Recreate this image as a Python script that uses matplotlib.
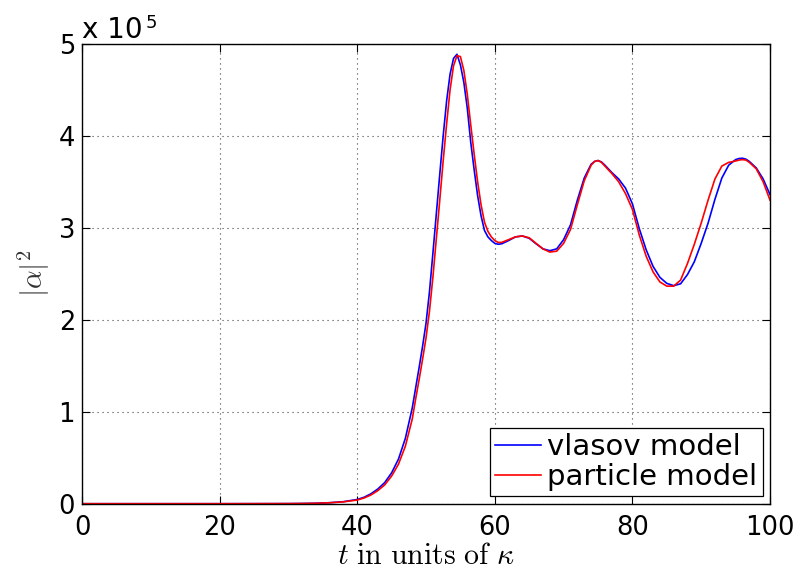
import matplotlib
matplotlib.use("Agg")
import matplotlib.pyplot as plt

# ---------------- data ----------------
t = [0, 10, 20, 25, 30, 32, 34, 36, 38, 40, 41, 42, 43, 44, 45, 46, 47, 48,
     48.5, 49, 49.5, 50, 50.5, 51, 51.5, 52, 52.5, 53, 53.5, 54, 54.5, 55,
     55.5, 56, 56.5, 57, 57.5, 58, 58.5, 59, 59.5, 60, 60.5, 61, 62, 63, 64,
     65, 66, 67, 68, 69, 70, 71, 72, 73, 74, 74.5, 75, 75.5, 76, 77, 78, 79,
     80, 81, 82, 83, 84, 85, 86, 87, 88, 89, 90, 91, 92, 93, 94, 95, 95.5,
     96, 96.5, 97, 98, 99, 100]

vlasov = [0, 0, 0, 0.0004, 0.001, 0.0025, 0.005, 0.011, 0.022, 0.046, 0.07,
          0.108, 0.16, 0.23, 0.335, 0.485, 0.71, 1.04, 1.26, 1.48, 1.71,
          1.96, 2.3, 2.72, 3.15, 3.58, 4.0, 4.38, 4.67, 4.84, 4.885, 4.77,
          4.58, 4.3, 3.93, 3.63, 3.35, 3.13, 2.97, 2.9, 2.86, 2.83, 2.82,
          2.825, 2.86, 2.9, 2.91, 2.885, 2.825, 2.77, 2.75, 2.77, 2.87, 3.03,
          3.3, 3.54, 3.69, 3.72, 3.73, 3.715, 3.68, 3.6, 3.53, 3.43, 3.26,
          2.99, 2.76, 2.58, 2.46, 2.395, 2.37, 2.39, 2.49, 2.63, 2.83, 3.05,
          3.31, 3.54, 3.68, 3.74, 3.752, 3.755, 3.745, 3.72, 3.65, 3.53,
          3.36]

particle = [0, 0, 0, 0.0004, 0.001, 0.0022, 0.0045, 0.01, 0.02, 0.04, 0.062,
            0.095, 0.142, 0.205, 0.3, 0.43, 0.625, 0.92, 1.14, 1.35, 1.57,
            1.8, 2.09, 2.46, 2.88, 3.3, 3.73, 4.13, 4.5, 4.76, 4.87, 4.86,
            4.71, 4.45, 4.12, 3.8, 3.5, 3.25, 3.06, 2.96, 2.9, 2.86, 2.84,
            2.84, 2.87, 2.9, 2.91, 2.89, 2.83, 2.77, 2.735, 2.745, 2.83, 2.98,
            3.25, 3.51, 3.68, 3.72, 3.73, 3.71, 3.67, 3.59, 3.5, 3.37, 3.2,
            2.92, 2.69, 2.52, 2.41, 2.365, 2.365, 2.43, 2.61, 2.82, 3.05,
            3.3, 3.53, 3.67, 3.71, 3.725, 3.735, 3.74, 3.735, 3.71, 3.64,
            3.5, 3.30]

labels = ["vlasov model", "particle model"]
x_ticks = [0, 20, 40, 60, 80, 100]
y_ticks = [0, 1, 2, 3, 4, 5]

# ---------------- figure ----------------
plt.rcParams["font.family"] = ["DejaVu Sans"]
plt.rcParams["mathtext.fontset"] = "cm"

fig = plt.figure(figsize=(8.03, 5.69), dpi=100)
ax = fig.add_axes([82 / 803, 1 - 503.7 / 569, (770 - 82) / 803, 460 / 569])

ax.plot(t, vlasov, color="#0000ff", lw=1.2, label=labels[0])
ax.plot(t, particle, color="#ff0000", lw=1.2, label=labels[1])

ax.set_xlim(0, 100)
ax.set_ylim(0, 5)
ax.set_xticks(x_ticks)
ax.set_yticks(y_ticks)
ax.set_xticklabels([str(v) for v in x_ticks])
ax.set_yticklabels([str(v) for v in y_ticks])

ax.tick_params(direction="in", length=6, width=0.8, top=True, right=True,
               labelsize=18.5, colors="black")
ax.tick_params(axis="x", pad=8)
ax.tick_params(axis="y", pad=5)
for s in ax.spines.values():
    s.set_linewidth(1.0)
    s.set_color("black")

ax.grid(True, color="#444444", linestyle=(0, (1, 3.5)), linewidth=0.8)
ax.set_axisbelow(True)

# exponent label
fig.text(82 / 803, 1 - 37.7 / 569, "x 10", fontsize=20, ha="left", va="baseline")
fig.text(146 / 803, 1 - 28 / 569, "5", fontsize=13, ha="left", va="baseline")

ax.set_xlabel(r"$t\ \mathrm{in\ units\ of}\ \kappa$", fontsize=21.5, labelpad=0)
ax.set_ylabel(r"$|\alpha|^2$", fontsize=21, color="#333333")
ax.yaxis.set_label_coords(-0.044, 0.5)

leg = ax.legend(loc="lower right", fontsize=21, fancybox=False, framealpha=1,
                edgecolor="black", borderaxespad=0.25, handlelength=1.6,
                handletextpad=0.2, labelspacing=0.08, borderpad=0.18)
leg.get_frame().set_linewidth(0.9)

fig.savefig("out.png", dpi=100)
